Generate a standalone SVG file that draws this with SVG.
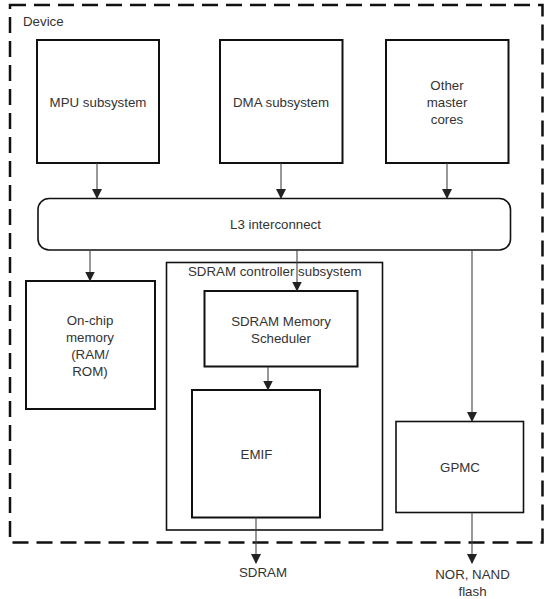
<svg xmlns="http://www.w3.org/2000/svg" width="548" height="599" viewBox="0 0 548 599">
<style>
text{font-family:"Liberation Sans",Arial,sans-serif;font-size:13.3px;fill:#333;}
.c{text-anchor:middle;}
.box{fill:#fff;stroke:#111;stroke-width:2;}
.thin{fill:none;stroke:#111;stroke-width:1.6;}
.conn line{stroke:#444;stroke-width:1.1;marker-end:url(#ah);}
</style>
<defs>
<marker id="ah" markerUnits="userSpaceOnUse" markerWidth="10" markerHeight="12" refX="9" refY="5" orient="auto">
<path d="M0,0 L10,5 L0,10 Z" fill="#222"/>
</marker>
</defs>
<rect width="548" height="599" fill="#fff"/>
<g id="device">
<rect x="10" y="5" width="532.5" height="537.5" fill="none" stroke="#111" stroke-width="2.5" stroke-dasharray="16,8"/>
<text x="23" y="25.5">Device</text>
</g>
<g id="mpu"><rect class="box" x="37" y="40" width="122" height="123"/><text class="c" x="98" y="107">MPU subsystem</text></g>
<g id="dma"><rect class="box" x="220" y="40" width="122.5" height="123"/><text class="c" x="281" y="107">DMA subsystem</text></g>
<g id="other"><rect class="box" x="386" y="40" width="122.5" height="123"/><text class="c" x="447" y="90">Other</text><text class="c" x="447" y="107">master</text><text class="c" x="447" y="124">cores</text></g>
<g id="l3"><rect x="38" y="198.5" width="472.5" height="51.5" rx="11" fill="#fff" stroke="#111" stroke-width="1.6"/><text class="c" x="275.5" y="229">L3 interconnect</text></g>
<g id="onchip"><rect class="box" x="26" y="281" width="129" height="128"/><text class="c" x="90" y="325">On-chip</text><text class="c" x="90" y="342">memory</text><text class="c" x="90" y="359">(RAM/</text><text class="c" x="90" y="376">ROM)</text></g>
<g id="sdramctl"><rect class="thin" x="166.5" y="262.5" width="216" height="267.5"/><text x="188" y="276">SDRAM controller subsystem</text></g>
<g id="scheduler"><rect class="box" x="204.5" y="291" width="153" height="75.5"/><text class="c" x="281" y="326">SDRAM Memory</text><text class="c" x="281" y="343">Scheduler</text></g>
<g id="emif"><rect class="box" x="192" y="390" width="128" height="127.5"/><text class="c" x="256.5" y="458.5">EMIF</text></g>
<g id="gpmc"><rect class="thin" x="396" y="421.5" width="127.5" height="91"/><text class="c" x="460" y="472">GPMC</text></g>
<g id="sdram"><text class="c" x="263" y="577">SDRAM</text></g>
<g id="flash"><text class="c" x="472.5" y="578.5">NOR, NAND</text><text class="c" x="472.5" y="596">flash</text></g>
<g id="connectors" class="conn">
<line x1="97" y1="163" x2="97" y2="198"/>
<line x1="281" y1="163" x2="281" y2="198"/>
<line x1="447" y1="163" x2="447" y2="198"/>
<line x1="90" y1="250" x2="90" y2="280.5"/>
<line x1="297" y1="250" x2="297" y2="290.5"/>
<line x1="268" y1="367" x2="268" y2="389.5"/>
<line x1="472" y1="250" x2="472" y2="421"/>
<line x1="256" y1="517.5" x2="256" y2="563"/>
<line x1="472" y1="512.5" x2="472" y2="563"/>
</g>
</svg>
